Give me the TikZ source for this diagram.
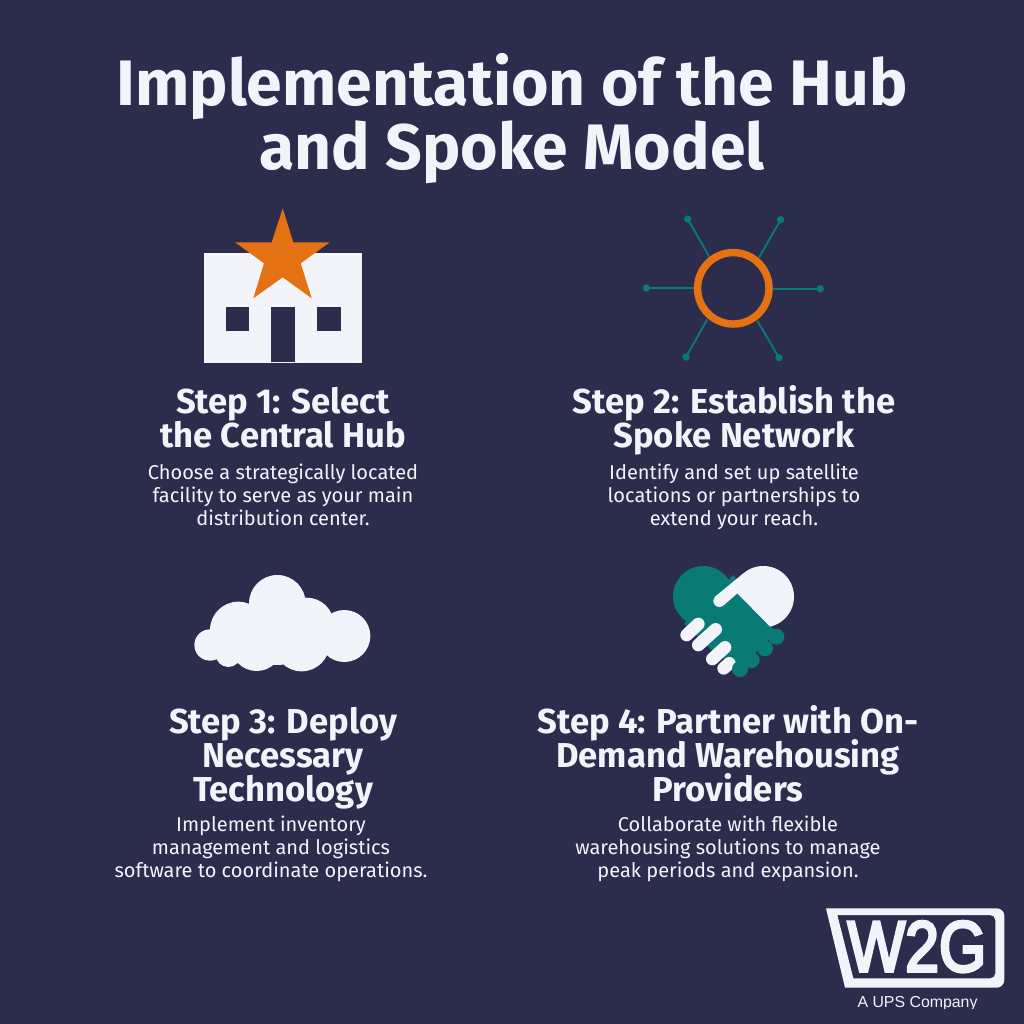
\documentclass[tikz,border=0pt]{standalone}
\usepackage{fontspec}
\setmainfont{Fira Sans}
\newfontfamily\logofont[FakeBold=4.5]{Liberation Sans}
\newfontfamily\upsfont{Liberation Sans}
\newcommand{\firsttitle}{\rule{0pt}{44pt}}
\newcommand{\firsthead}{\rule{0pt}{24pt}}
\newcommand{\firstbody}{\rule{0pt}{16pt}}
\normallineskiplimit=-100pt\relax
\lineskiplimit=-100pt\relax
\definecolor{bgc}{HTML}{2C2D4D}
\definecolor{paper}{HTML}{F2F4FA}
\definecolor{orangec}{HTML}{E57212}
\definecolor{tealc}{HTML}{0A7A75}
\tikzset{
 txt/.style={inner sep=0pt,outer sep=0pt,align=center,text=paper,anchor=north},
 titletxt/.style={txt,font=\fontsize{48.2}{48.5}\selectfont\bfseries},
 headtxt/.style={txt,font=\fontsize{25.95}{25.5}\selectfont\bfseries},
 bodytxt/.style={txt,font=\fontsize{15}{17.25}\selectfont},
 spoke/.style={draw=tealc,line width=1.4pt},
 whitefinger/.style={draw=paper,line width=9.5pt,line cap=round},
}
\begin{document}
\begin{tikzpicture}[x=0.75pt,y=-0.75pt]
\fill[bgc] (0,0) rectangle (1024,1024);
\useasboundingbox (0,0) rectangle (1024,1024);
% title
\node[titletxt] (title) at (512,46.4) {\firsttitle Implementation of the Hub\\and Spoke Model};
% building
\fill[paper] (203.5,253.3) rectangle (362.3,363.3);
\fill[bgc] (225.7,307.3) rectangle (249.3,330.7);
\fill[bgc] (316.7,307.3) rectangle (341.3,330.7);
\fill[bgc] (271.3,307.3) rectangle (294.7,362.3);
\fill[orangec] (282.7,208.5) -- (293.3,242.3) -- (329.7,242.3) -- (300.7,263.3) -- (311.7,298.3) -- (282.7,277.3) -- (253.3,298.3) -- (264,263.3) -- (235,242.3) -- (271.7,242.3) -- cycle;
% spokes
\coordinate (hub) at (733.3,288.3);
\foreach \n/\x/\y/\u/\v in {a/687.7/219/709.3/256.7,b/780.7/219.7/759/257.7,c/646.3/288/694/288,d/820.3/288.7/773/288.7,e/686/357/707.3/319.3,f/779/357.7/757.3/320.7}{
  \coordinate (\n) at (\x,\y);
  \coordinate (\n0) at (\u,\v);
  \draw[spoke] (\n0) -- (\n);
  \fill[tealc] (\n) circle[radius=2.75pt];
}
\draw[orangec,line width=5.6pt] (hub) circle[radius=26.8pt];
% cloud
\begin{scope}[shift={(185,565)},x=0.25pt,y=-0.25pt]
\fill[paper]
 (75,240) circle[radius=11.75pt]
 (130,268) circle[radius=9.5pt]
 (215,240) circle[radius=19.5pt]
 (160,195) circle[radius=21.25pt]
 (277,115) circle[radius=21.25pt]
 (277,200) circle[radius=25pt]
 (365,180) circle[radius=20.5pt]
 (350,235) circle[radius=21pt]
 (478,213) circle[radius=19.5pt];
\end{scope}
% handshake
\begin{scope}[shift={(660,555)},x=0.25pt,y=-0.25pt]
\fill[tealc] (130,124) circle[radius=22.75pt];
\fill[tealc] (72,205) -- (220,60) -- (347,232) -- (245,335) -- (170,300) -- cycle;
\fill[tealc] (275,315) circle[radius=6pt] (315,280) circle[radius=6pt] (349,245) circle[radius=6pt];
\draw[whitefinger] (80,240) -- (115,207);
\draw[whitefinger] (115,270) -- (167,223);
\draw[whitefinger] (157,312) -- (195,277);
\draw[whitefinger] (191,340) -- (208,325);
\fill[tealc] (240,342) circle[radius=6pt];
\begin{scope}
\clip (232,115) -- (347,232) -- (480,232) -- (480,0) -- (232,0) -- cycle;
\fill[paper] (310,125) circle[radius=23pt];
\end{scope}
\fill[paper] (250,55) -- (300,40) -- (232,115) -- (192,150) -- (165,125) -- cycle;
\fill[paper] (178,138) circle[radius=4.5pt];
\end{scope}
% step texts
\node[headtxt] (h1) at (283,381) {\firsthead Step 1: Select\\the Central Hub};
\node[bodytxt] (b1) at (283,458.6) {\firstbody Choose a strategically located\\facility to serve as your main\\distribution center.};
\node[headtxt] (h2) at (734,381) {\firsthead Step 2: Establish the\\Spoke Network};
\node[bodytxt] (b2) at (734,458.6) {\firstbody Identify and set up satellite\\locations or partnerships to\\extend your reach.};
\node[headtxt] (h3) at (283,701) {\firsthead Step 3: Deploy\\Necessary\\Technology};
\node[bodytxt] (b3) at (271,810.6) {\firstbody Implement inventory\\management and logistics\\software to coordinate operations.};
\node[headtxt] (h4) at (728,701) {\firsthead Step 4: Partner with On-\\Demand Warehousing\\Providers};
\node[bodytxt] (b4) at (728,810.6) {\firstbody Collaborate with flexible\\warehousing solutions to manage\\peak periods and expansion.};
% logo
\begin{scope}[shift={(810,895)},x=0.25pt,y=-0.25pt]
\fill[paper,even odd rule]
 (48,40) -- (560,40) to[out=0,in=90] (583,62) -- (583,255) to[out=-90,in=0] (560,278) -- (105,278) -- cycle
 (82,60) -- (540,60) to[out=0,in=90] (556,75) -- (556,235) to[out=-90,in=0] (540,250) -- (130,250) -- cycle;
\node[inner sep=0pt,text=paper,anchor=center] (logo) at (321,155)
 {\resizebox{104pt}{37.5pt}{\logofont W2G}};
\end{scope}
\begin{scope}
\clip (840,990) rectangle (1000,1008);
\node[inner sep=0pt,anchor=base,text=paper] (ups) at (917.5,1007.5) {\upsfont\fontsize{11.9}{13}\selectfont A UPS Company};
\end{scope}
\end{tikzpicture}
\end{document}
